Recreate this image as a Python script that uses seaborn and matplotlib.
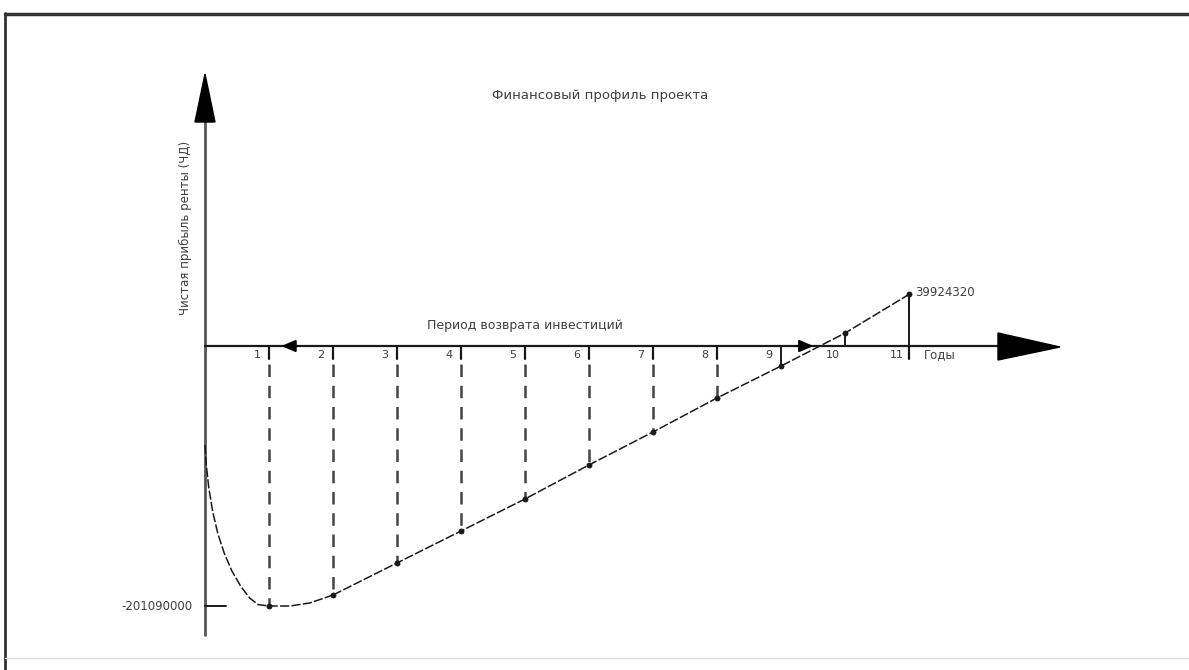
import numpy as np
import pandas as pd
import matplotlib
matplotlib.use("Agg")
import matplotlib.pyplot as plt
import seaborn as sns

# ---- data ----
years = [1, 2, 3, 4, 5, 6, 7, 8, 9, 10, 11]
npv = [-201090000, -192600000, -167800000, -143100000, -118300000, -92000000,
       -66500000, -40200000, -15500000, 10000000, 39924320]
# initial investment curve (year 0 -> year 2)
curve_t = [0, 0.02, 0.06, 0.12, 0.2, 0.3, 0.42, 0.56, 0.7, 0.83, 1.0, 1.33, 1.64, 2.0]
curve_v = [-76600000, -92000000, -110000000, -128000000, -145000000, -160100000,
           -174000000, -186000000, -195000000, -200000000, -201090000, -201090000,
           -198700000, -192600000]
payback_start, payback_end = 1.15, 9.55
title = "Финансовый профиль проекта"
ylabel = "Чистая прибыль ренты (ЧД)"
xlabel = "Годы"
payback_label = "Период возврата инвестиций"
min_label = "-201090000"
max_label = "39924320"

# ---- figure ----
sns.set_theme(style="white")
plt.rcParams['font.family'] = ['DejaVu Sans']
W, H = 1189, 670
fig = plt.figure(figsize=(W / 100, H / 100), dpi=100)
ax = fig.add_axes([0, 0, 1, 1])

X0, Y0, PXY = 205, 346, 64.0
S = 201.09e6 / 260.0


def X(px):
    return (px - X0) / PXY


def Y(py):
    return -(py - Y0) * S


ink = "#1a1a1a"
txt = "#3f3f3f"

# axes lines
ax.plot([X(205), X(205)], [Y(635), Y(120)], color="#555555", lw=2, zorder=2)
ax.plot([X(205), X(1000)], [0, 0], color=ink, lw=1.6, zorder=2)
# y-axis arrowhead
ax.fill([X(195), X(215), X(205)], [Y(122), Y(122), Y(74)], color="black", zorder=3)
# x-axis arrowhead
ax.fill([X(998), X(1060), X(998)], [Y(333), Y(347), Y(360)], color="black", zorder=3)

# ticks below the axis + labels
for yr in years:
    if yr not in (9, 10):
        ax.plot([yr, yr], [0, Y(359)], color=ink, lw=1.6, zorder=2)
    ax.text(yr - X(217), Y(355), str(yr), fontsize=8, color=txt,
            ha="center", va="center")

# dashed drop lines
df = pd.DataFrame({"year": years, "npv": npv})
for yr, v in zip(years, npv):
    if v < Y(370):
        ax.plot([yr, yr], [Y(364), v], color="#444444", lw=1.8,
                linestyle=(0, (5, 3.5)), zorder=1)
    else:
        ax.plot([yr, yr], [0, v], color=ink, lw=1.4, zorder=2)
ax.plot([years[-1], years[-1]], [npv[-1], Y(318)], color=ink, lw=1.4, zorder=2)

# curve
ax.plot(curve_t, curve_v, color=ink, lw=1.1, linestyle=(0, (6, 1.5)), zorder=3)
sns.lineplot(data=df[df["year"] >= 2], x="year", y="npv", ax=ax, color=ink, lw=1.1,
             linestyle=(0, (6, 1.5)), zorder=3)
sns.scatterplot(data=df, x="year", y="npv", ax=ax, color=ink, s=18,
                linewidth=0, zorder=4)
ax.set_xlim(X(0), X(W))
ax.set_ylim(Y(H), Y(0))
ax.axis("off")

# min / max markers
ax.plot([X(205), X(226)], [npv[0], npv[0]], color=ink, lw=1.4)
ax.text(X(193), npv[0], min_label, fontsize=8.5, color=txt, ha="right", va="center")
ax.text(years[-1] + X(211), npv[-1] + (Y(296) - Y(298)), max_label, fontsize=8.5,
        color=txt, ha="left", va="center")

# payback period arrows
ax.annotate("", xy=(payback_start, 0), xytext=(payback_start + 0.35, 0),
            arrowprops=dict(arrowstyle="-|>,head_length=0.7,head_width=0.3",
                            color="black", lw=1.5), zorder=5)
ax.annotate("", xy=(payback_end, 0), xytext=(payback_end - 0.35, 0),
            arrowprops=dict(arrowstyle="-|>,head_length=0.7,head_width=0.3",
                            color="black", lw=1.5), zorder=5)
ax.text(X(525), Y(325), payback_label, fontsize=9, color=txt, ha="center", va="center")

# texts
ax.text(X(600), Y(95), title, fontsize=9.5, color=txt, ha="center", va="center")
ax.text(X(185), Y(228), ylabel, fontsize=8.5, color=txt, rotation=90,
        ha="center", va="center")
ax.text(X(924), Y(355), xlabel, fontsize=8.5, color=txt, ha="left", va="center")

# frame around the picture
fig.add_artist(plt.Line2D([5 / W, 5 / W], [0, 1 - 13 / H], transform=fig.transFigure,
                          color="#333333", lw=2))
fig.add_artist(plt.Line2D([5 / W, 1], [1 - 14 / H, 1 - 14 / H], transform=fig.transFigure,
                          color="#333333", lw=2.5))
fig.add_artist(plt.Line2D([5 / W, 1], [1 - 658 / H, 1 - 658 / H], transform=fig.transFigure,
                          color="#dddddd", lw=1))

fig.savefig("out.png", dpi=100, facecolor="white")
